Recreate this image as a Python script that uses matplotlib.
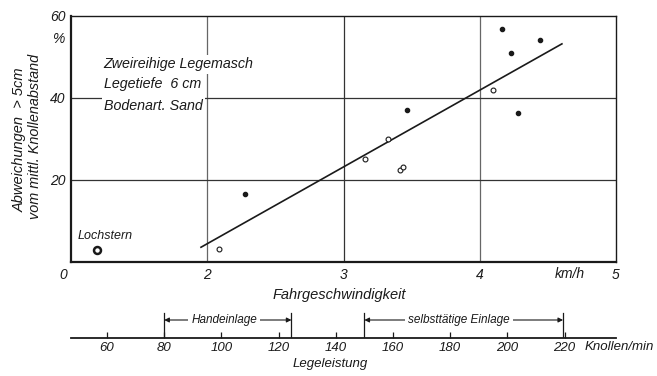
import matplotlib
matplotlib.use("Agg")
import matplotlib.pyplot as plt
import matplotlib.transforms as mtransforms

plt.rcParams['font.family'] = ['Liberation Sans', 'DejaVu Sans']
plt.rcParams['font.style'] = 'italic'

# ---- data (speed axis is broken: position 1 is labelled "0") ----
filled_x = [4.16, 4.445, 4.23, 4.28, 3.465, 2.278]
filled_y = [56.8, 54.1, 51.0, 36.4, 37.1, 16.5]
open_x = [4.095, 3.324, 3.16, 3.414, 3.436, 2.088]
open_y = [42.0, 29.9, 25.0, 22.4, 23.1, 3.2]
lochstern_x = [1.19]
lochstern_y = [3.0]
fit_x = [1.954, 4.603]
fit_y = [3.6, 53.2]

x_ticks = [1, 2, 3, 4, 5]
x_ticklabels = ["0", "2", "3", "4", "5"]
y_ticks = [20, 40, 60]
y_ticklabels = ["20", "40", "60"]

rate_ticks = [60, 80, 100, 120, 140, 160, 180, 200, 220]
rate_ticklabels = ["60", "80", "100", "120", "140", "160", "180", "200", "220"]
hand_range = [80, 124.5]
auto_range = [150, 219.5]

ink = '#1a1a1a'

fig = plt.figure(figsize=(6.57, 3.76), dpi=100)
ax = fig.add_axes([0.1081, 0.3032, 0.8295, 0.6543])
ax.set_xlim(1, 5)
ax.set_ylim(0, 60)

for gx in [2, 3, 4]:
    ax.axvline(gx, color='#333333' if gx == 3 else '#666666', lw=0.9, zorder=1)
for gy in [20, 40]:
    ax.axhline(gy, color='#333333', lw=0.9, zorder=1)

for s in ['left', 'bottom']:
    ax.spines[s].set_linewidth(1.6)
for s in ['top', 'right']:
    ax.spines[s].set_linewidth(1.0)
for s in ax.spines.values():
    s.set_color(ink)

ax.plot(fit_x, fit_y, color=ink, lw=1.2, zorder=3)
ax.plot(filled_x, filled_y, 'o', ms=3, color=ink, zorder=4)
ax.plot(open_x, open_y, 'o', ms=3.5, mfc='white', mec=ink, mew=0.8, zorder=4)
ax.plot(lochstern_x, lochstern_y, 'o', ms=5, mfc='white', mec=ink, mew=1.8, zorder=4)

ax.set_xticks(x_ticks)
ax.set_xticklabels(x_ticklabels, fontsize=10, color=ink)
ax.set_yticks(y_ticks)
ax.set_yticklabels(y_ticklabels, fontsize=10, color=ink)
ax.tick_params(length=0, pad=4)
ax.tick_params(axis='y', pad=4)
# the "0" of the broken axis sits a little left of the corner
lbl0 = ax.get_xticklabels()[0]
lbl0.set_transform(lbl0.get_transform() +
                   mtransforms.ScaledTranslation(-8 / 100, 0, fig.dpi_scale_trans))

# annotations
tkw = dict(fontsize=10.3, color=ink, ha='left', va='center', zorder=5,
           bbox=dict(boxstyle='square,pad=0.15', fc='white', ec='none'))
ax.text(1.24, 48.2, "Zweireihige Legemasch", **tkw)
ax.text(1.24, 43.3, "Legetiefe  6 cm", **tkw)
ax.text(1.24, 38.0, "Bodenart. Sand", **tkw)
ax.text(1.05, 6.3, "Lochstern", fontsize=9, color=ink, ha='left', va='center')
ax.text(-0.024, 54.5, "%", fontsize=10, color=ink, ha='center', va='center',
        transform=ax.get_yaxis_transform())
ax.text(4.66, -2.9, "km/h", fontsize=10, color=ink, ha='center', va='center')
ax.text(2.97, -6.3, "Fahrgeschwindigkeit", fontsize=10.5, color=ink, ha='center', va='top')

fig.text(20 / 657, 1 - 140 / 376, "Abweichungen  > 5cm", rotation=90,
         rotation_mode='anchor', ha='center', va='center', fontsize=10.5, color=ink)
fig.text(35 / 657, 1 - 136 / 376, "vom mittl. Knollenabstand", rotation=90,
         rotation_mode='anchor', ha='center', va='center', fontsize=10.4, color=ink)

# second scale: Legeleistung
ax2 = fig.add_axes([0.1081, 1 - 338 / 376, 0.8295, 30 / 376])
ax2.set_xlim(47.4, 238)
ax2.set_ylim(0, 30)
ax2.patch.set_visible(False)
for s in ['left', 'right', 'top']:
    ax2.spines[s].set_visible(False)
ax2.spines['bottom'].set_linewidth(1.3)
ax2.spines['bottom'].set_color(ink)
ax2.set_yticks([])
ax2.set_xticks(rate_ticks)
ax2.set_xticklabels(rate_ticklabels, fontsize=9.5, color=ink)
ax2.tick_params(axis='x', direction='in', length=4, width=0.9, color=ink, pad=3)

for rng, label, cx in [(hand_range, "Handeinlage", 101), (auto_range, "selbsttätige Einlage", 183)]:
    for xv in rng:
        ax2.plot([xv, xv], [0, 25], color=ink, lw=0.9)
    for end in rng:
        ax2.annotate("", xy=(end, 18), xytext=(cx, 18),
                     arrowprops=dict(arrowstyle='-|>', color=ink, lw=0.8, mutation_scale=7,
                                     shrinkA=0, shrinkB=0))
    ax2.text(cx, 18, label, fontsize=8.5, color=ink, ha='center', va='center',
             bbox=dict(boxstyle='square,pad=0.25', fc='white', ec='none'), zorder=5)

ax2.text(227, -3.5, "Knollen/min", fontsize=9.5, color=ink, ha='left', va='top')
ax2.text(138, -20, "Legeleistung", fontsize=9.5, color=ink, ha='center', va='top')

fig.savefig("out.png", dpi=100, facecolor='white')
